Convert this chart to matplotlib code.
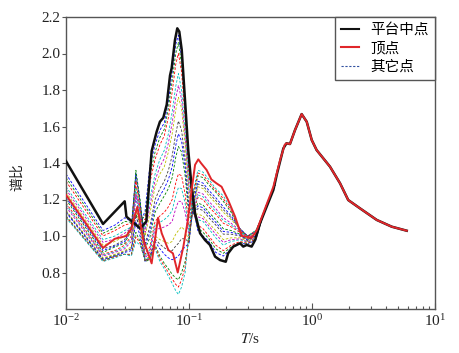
import matplotlib
matplotlib.use('Agg')
import matplotlib.pyplot as plt
from matplotlib.ticker import LogLocator, NullFormatter, FixedLocator, FixedFormatter
from matplotlib.lines import Line2D

# ---------------- data ----------------
black_T = [0.010, 0.020, 0.030, 0.031, 0.040, 0.0425, 0.045, 0.047, 0.0497, 0.0546, 0.058,
           0.0618, 0.0659, 0.0701, 0.0723, 0.0769, 0.0803, 0.0834, 0.0873, 0.0928, 0.0986,
           0.105, 0.112, 0.123, 0.135, 0.148, 0.163, 0.179, 0.199, 0.208, 0.229, 0.260,
           0.276, 0.295, 0.323, 0.345, 0.378, 0.428, 0.485, 0.520, 0.585, 0.620, 0.662,
           0.728, 0.824, 0.906, 0.995, 1.09, 1.40, 1.69, 1.97, 2.45, 3.36, 4.45, 5.89]
black_v = [1.41, 1.066, 1.19, 1.106, 1.042, 1.06, 1.08, 1.25, 1.465, 1.572, 1.626,
           1.648, 1.72, 1.88, 1.92, 2.074, 2.138, 2.12, 2.019, 1.745, 1.471,
           1.27, 1.124, 1.015, 0.978, 0.951, 0.887, 0.868, 0.859, 0.905, 0.942, 0.96,
           0.942, 0.951, 0.942, 0.978, 1.07, 1.161, 1.252, 1.343, 1.48, 1.508, 1.504,
           1.581, 1.668, 1.626, 1.526, 1.471, 1.38, 1.289, 1.197, 1.152, 1.088, 1.051, 1.029]

red_T = [0.010, 0.020, 0.025, 0.031, 0.034, 0.038, 0.0425, 0.0497, 0.056, 0.060, 0.068,
         0.074, 0.081, 0.090, 0.098, 0.105, 0.112, 0.119, 0.125, 0.139, 0.152, 0.167,
         0.184, 0.208, 0.237, 0.268, 0.295, 0.323, 0.355, 0.415, 0.485, 0.55, 0.60,
         0.620, 0.662, 0.728, 0.824, 0.906, 0.995, 1.09, 1.40, 1.69, 1.97, 2.45, 3.36, 4.45, 5.89]
red_v = [1.225, 0.935, 0.985, 1.0, 1.04, 1.16, 0.98, 0.85, 1.10, 1.015, 0.923,
         0.905, 0.80, 0.942, 1.088, 1.25, 1.39, 1.42, 1.40, 1.362, 1.31, 1.289,
         1.27, 1.197, 1.106, 1.0, 0.996, 0.99, 1.03, 1.15, 1.27, 1.416, 1.50,
         1.508, 1.504, 1.581, 1.668, 1.626, 1.526, 1.471, 1.38, 1.289, 1.197, 1.152, 1.088, 1.051, 1.029]

other_T = [0.010, 0.020, 0.025, 0.030, 0.034, 0.037, 0.040, 0.044, 0.048, 0.053, 0.058,
           0.063, 0.068, 0.073, 0.078, 0.082, 0.087, 0.093, 0.100, 0.108, 0.118, 0.130,
           0.145, 0.165, 0.190, 0.220, 0.260, 0.300, 0.350, 0.420, 0.500]
other_1 = [1.34, 1.03, 1.06, 1.10, 1.08, 1.10, 1.06, 1.14, 1.38, 1.50, 1.58, 1.62, 1.74, 1.90, 2.05, 2.10, 1.98, 1.70, 1.40, 1.15, 1.03, 1.00, 0.97, 0.91, 0.89, 0.93, 0.96, 0.955, 0.98, 1.16, 1.28]
other_2 = [1.32, 1.015, 1.045, 1.08, 1.075, 1.12, 1.075, 1.115, 1.33, 1.46, 1.54, 1.585, 1.70, 1.85, 2.00, 2.06, 1.94, 1.68, 1.37, 1.145, 1.045, 1.02, 0.985, 0.93, 0.905, 0.94, 0.965, 0.958, 0.983, 1.16, 1.28]
other_3 = [1.30, 1.00, 1.03, 1.06, 1.07, 1.14, 1.09, 1.09, 1.29, 1.42, 1.50, 1.55, 1.65, 1.79, 1.94, 2.00, 1.90, 1.65, 1.34, 1.14, 1.06, 1.04, 1.00, 0.95, 0.92, 0.95, 0.97, 0.96, 0.985, 1.16, 1.28]
other_4 = [1.27, 0.98, 1.00, 1.03, 1.05, 1.20, 1.12, 1.04, 1.20, 1.34, 1.42, 1.47, 1.56, 1.68, 1.82, 1.89, 1.80, 1.58, 1.28, 1.13, 1.09, 1.08, 1.04, 0.99, 0.95, 0.97, 0.98, 0.965, 0.99, 1.155, 1.28]
other_5 = [1.255, 0.965, 0.985, 1.015, 1.045, 1.235, 1.135, 1.02, 1.16, 1.305, 1.38, 1.425, 1.51, 1.62, 1.755, 1.825, 1.75, 1.54, 1.25, 1.125, 1.105, 1.095, 1.055, 1.01, 0.965, 0.98, 0.985, 0.968, 0.993, 1.155, 1.28]
other_6 = [1.24, 0.95, 0.97, 1.00, 1.04, 1.27, 1.15, 1.00, 1.12, 1.27, 1.34, 1.38, 1.46, 1.56, 1.69, 1.76, 1.70, 1.50, 1.22, 1.12, 1.12, 1.11, 1.07, 1.03, 0.98, 0.99, 0.99, 0.97, 0.995, 1.155, 1.28]
other_7 = [1.22, 0.93, 0.95, 0.98, 1.06, 1.33, 1.18, 0.96, 1.05, 1.20, 1.26, 1.30, 1.36, 1.44, 1.56, 1.63, 1.58, 1.42, 1.16, 1.12, 1.15, 1.14, 1.10, 1.06, 1.01, 1.01, 1.00, 0.975, 1.00, 1.15, 1.28]
other_8 = [1.21, 0.92, 0.945, 0.97, 1.045, 1.345, 1.19, 0.945, 1.02, 1.165, 1.22, 1.26, 1.31, 1.38, 1.495, 1.56, 1.52, 1.375, 1.13, 1.12, 1.165, 1.155, 1.115, 1.075, 1.025, 1.02, 1.005, 0.978, 1.003, 1.15, 1.28]
other_9 = [1.20, 0.91, 0.94, 0.96, 1.03, 1.36, 1.20, 0.93, 0.99, 1.13, 1.18, 1.22, 1.26, 1.32, 1.43, 1.49, 1.46, 1.33, 1.10, 1.12, 1.18, 1.17, 1.13, 1.09, 1.04, 1.03, 1.01, 0.98, 1.005, 1.15, 1.28]
other_10 = [1.18, 0.90, 0.92, 0.95, 1.00, 1.30, 1.15, 0.90, 0.94, 1.08, 1.11, 1.13, 1.16, 1.20, 1.29, 1.34, 1.33, 1.23, 1.05, 1.13, 1.21, 1.20, 1.16, 1.12, 1.07, 1.05, 1.02, 0.985, 1.01, 1.15, 1.28]
other_11 = [1.17, 0.895, 0.915, 0.94, 0.985, 1.26, 1.125, 0.89, 0.925, 1.06, 1.075, 1.09, 1.11, 1.14, 1.22, 1.265, 1.26, 1.18, 1.025, 1.135, 1.225, 1.215, 1.175, 1.135, 1.085, 1.06, 1.025, 0.988, 1.013, 1.15, 1.28]
other_12 = [1.16, 0.89, 0.91, 0.93, 0.97, 1.22, 1.10, 0.88, 0.91, 1.04, 1.04, 1.05, 1.06, 1.08, 1.15, 1.19, 1.19, 1.13, 1.00, 1.14, 1.24, 1.23, 1.19, 1.15, 1.10, 1.07, 1.03, 0.99, 1.015, 1.15, 1.28]
other_13 = [1.14, 0.88, 0.90, 0.92, 0.94, 1.15, 1.05, 0.87, 0.89, 1.00, 0.98, 0.97, 0.96, 0.97, 1.01, 1.03, 1.05, 1.03, 0.97, 1.16, 1.27, 1.26, 1.22, 1.18, 1.13, 1.09, 1.04, 0.995, 1.02, 1.15, 1.28]
other_14 = [1.135, 0.875, 0.895, 0.915, 0.93, 1.115, 1.025, 0.865, 0.885, 0.985, 0.955, 0.935, 0.92, 0.92, 0.945, 0.96, 0.985, 0.985, 0.965, 1.17, 1.285, 1.275, 1.235, 1.195, 1.145, 1.10, 1.04, 0.998, 1.023, 1.15, 1.28]
other_15 = [1.13, 0.87, 0.89, 0.91, 0.92, 1.08, 1.00, 0.86, 0.88, 0.97, 0.93, 0.90, 0.88, 0.87, 0.88, 0.89, 0.92, 0.94, 0.96, 1.18, 1.30, 1.29, 1.25, 1.21, 1.16, 1.11, 1.04, 1.00, 1.025, 1.15, 1.28]
other_16 = [1.11, 0.865, 0.89, 0.90, 0.90, 1.02, 0.97, 0.86, 0.87, 0.95, 0.89, 0.85, 0.82, 0.79, 0.77, 0.76, 0.80, 0.86, 0.98, 1.21, 1.33, 1.32, 1.28, 1.24, 1.19, 1.13, 1.03, 1.00, 1.03, 1.15, 1.28]
other_17 = [1.105, 0.862, 0.885, 0.90, 0.895, 0.995, 0.96, 0.865, 0.875, 0.94, 0.875, 0.835, 0.80, 0.765, 0.735, 0.72, 0.76, 0.83, 1.00, 1.225, 1.345, 1.335, 1.295, 1.25, 1.205, 1.14, 1.025, 1.00, 1.03, 1.15, 1.28]
other_18 = [1.10, 0.86, 0.88, 0.90, 0.89, 0.97, 0.95, 0.87, 0.88, 0.93, 0.86, 0.82, 0.78, 0.74, 0.70, 0.68, 0.72, 0.80, 1.02, 1.24, 1.36, 1.35, 1.31, 1.26, 1.22, 1.15, 1.02, 1.00, 1.03, 1.15, 1.28]
others = [other_1, other_2, other_3, other_4, other_5, other_6, other_7, other_8, other_9,
          other_10, other_11, other_12, other_13, other_14, other_15, other_16, other_17, other_18]

labels = ['平台中点', '顶点', '其它点']
y_ticks = [0.8, 1.0, 1.2, 1.4, 1.6, 1.8, 2.0, 2.2]
y_ticklabels = ['0.8', '1.0', '1.2', '1.4', '1.6', '1.8', '2.0', '2.2']

# ---------------- style ----------------
plt.rcParams['font.family'] = ['Liberation Serif', 'Noto Sans CJK SC']
plt.rcParams['mathtext.fontset'] = 'stix'
cycle = [(0, 0, 1), (0, 0.5, 0), (1, 0, 0), (0, 0.75, 0.75),
         (0.75, 0, 0.75), (0.75, 0.75, 0), (0.25, 0.25, 0.25)]
spine_c = '#555555'

fig = plt.figure(figsize=(4.6, 3.53), dpi=100)
ax = fig.add_axes([66 / 460, 1 - 309 / 353, 369 / 460, 292 / 353])

for i, vals in enumerate(others):
    ax.plot(other_T, vals, ls=(0, (3, 2)), lw=0.6, color=cycle[i % 7], zorder=2)
ax.plot(black_T, black_v, color='#111111', lw=1.8, zorder=3)
ax.plot(red_T, red_v, color='#e0262a', lw=1.4, zorder=4)

ax.set_xscale('log')
ax.set_xlim(0.01, 10)
ax.set_ylim(0.6, 2.2)
ax.yaxis.set_major_locator(FixedLocator(y_ticks))
ax.yaxis.set_major_formatter(FixedFormatter(y_ticklabels))
ax.xaxis.set_major_locator(LogLocator(base=10, numticks=10))
ax.xaxis.set_minor_locator(LogLocator(base=10, subs=range(2, 10), numticks=20))
ax.xaxis.set_minor_formatter(NullFormatter())

for s in ax.spines.values():
    s.set_color(spine_c)
    s.set_linewidth(1.0)
ax.tick_params(axis='x', which='major', direction='in', length=4, width=0.8,
               colors=spine_c, labelcolor='#222222', labelsize=11, pad=3)
ax.tick_params(axis='x', which='minor', direction='in', length=2.5, width=0.8, colors=spine_c)
ax.tick_params(axis='y', which='major', direction='out', length=3, width=0.8,
               colors=spine_c, labelcolor='#222222', labelsize=11, pad=1)

ax.set_xlabel(r'$T$/s', fontsize=11, color='#222222', labelpad=2)
ax.set_ylabel('谱比', fontsize=10, color='#222222', family=['Noto Sans CJK SC'])
ax.yaxis.set_label_coords(-0.114, 0.45)

handles = [Line2D([], [], color='#111111', lw=1.5),
           Line2D([], [], color='#e0262a', lw=1.5),
           Line2D([], [], color='#3050a0', lw=0.8, ls=(0, (2, 1.5)))]
leg = ax.legend(handles, labels, loc='upper right', borderaxespad=0, fancybox=False,
                framealpha=1, edgecolor=spine_c, prop={'family': 'Noto Sans CJK SC', 'size': 10.5},
                handlelength=1.2, handletextpad=0.8, borderpad=0.42, labelspacing=0.3)
leg.get_frame().set_linewidth(1.0)

fig.savefig('out.png', dpi=100)
